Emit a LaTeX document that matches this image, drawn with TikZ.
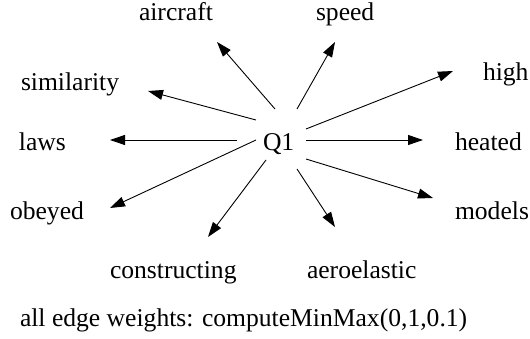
\documentclass[tikz,border=0pt]{standalone}
\usepackage{fontspec}
\setmainfont{Liberation Serif}
\usetikzlibrary{arrows.meta}
\begin{document}
\begin{tikzpicture}[x=1pt,y=-1pt,
  word/.style={inner sep=0pt,outer sep=0pt,anchor=base west,font=\fontsize{25.6}{30}\selectfont},
  arr/.style={-{Triangle[length=15pt,width=10pt]},line width=0.9pt}]
\useasboundingbox (0,0) rectangle (530,339);
\node[word] (Q1) at (263,151) {Q1};
\node[word] (aircraft) at (139,21) {aircraft};
\node[word] (speed) at (316,21) {speed};
\node[word] (similarity) at (21,91) {similarity};
\node[word] (high) at (483,81) {high};
\node[word] (laws) at (19,151) {laws};
\node[word] (heated) at (455,151) {heated};
\node[word] (obeyed) at (10,219) {obeyed};
\node[word] (models) at (455,219) {models};
\node[word] (constructing) at (110,278) {constructing};
\node[word] (aeroelastic) at (307,278) {aeroelastic};
\node[word] (caption) at (20,326) {all edge weights: computeMinMax(0,1,0.1)};
\draw[arr] ([shift={(12,-42)}]Q1.base west) -- ([shift={(78,21)}]aircraft.base west);
\draw[arr] ([shift={(34,-42)}]Q1.base west) -- ([shift={(19,21)}]speed.base west);
\draw[arr] ([shift={(-7,-31)}]Q1.base west) -- ([shift={(127,0)}]similarity.base west);
\draw[arr] ([shift={(43,-22)}]Q1.base west) -- ([shift={(-30,-10)}]high.base west);
\draw[arr] ([shift={(-26,-11)}]Q1.base west) -- ([shift={(91,-11)}]laws.base west);
\draw[arr] ([shift={(43,-11)}]Q1.base west) -- ([shift={(-32,-11)}]heated.base west);
\draw[arr] ([shift={(-7,-11)}]Q1.base west) -- ([shift={(100,-11)}]obeyed.base west);
\draw[arr] ([shift={(43,8)}]Q1.base west) -- ([shift={(-22,-21)}]models.base west);
\draw[arr] ([shift={(3,9)}]Q1.base west) -- ([shift={(98,-41)}]constructing.base west);
\draw[arr] ([shift={(34,18)}]Q1.base west) -- ([shift={(28,-51)}]aeroelastic.base west);
\end{tikzpicture}
\end{document}
